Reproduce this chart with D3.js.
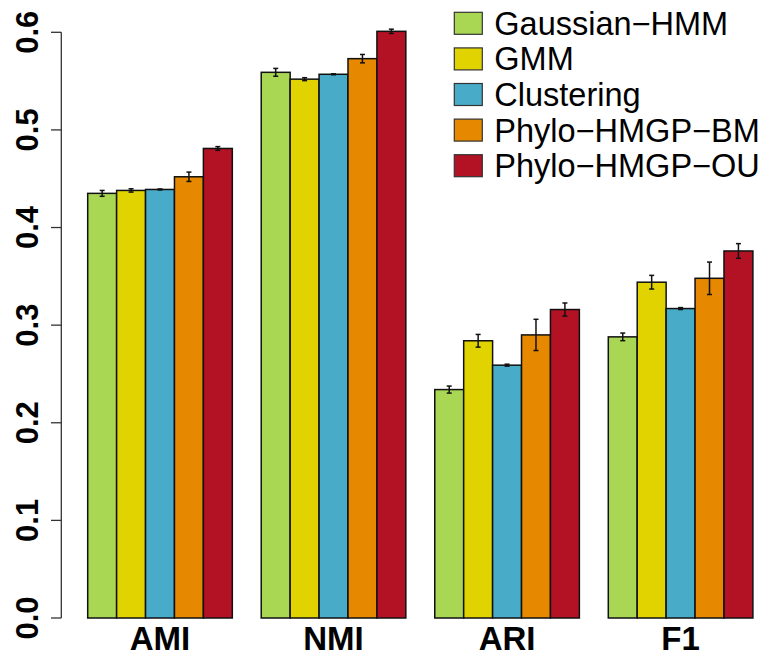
<!DOCTYPE html>
<meta charset="utf-8">
<style>
body { margin: 0; background: #fff; }
text { font-family: "Liberation Sans", Arial, sans-serif; }
</style>
<svg width="760" height="660"></svg>
<script src="https://d3js.org/d3.v7.min.js"></script>
<script>
// metrics and methods
var metrics = ["AMI", "NMI", "ARI", "F1"];
var methods = ["Gaussian\u2212HMM", "GMM", "Clustering", "Phylo\u2212HMGP\u2212BM", "Phylo\u2212HMGP\u2212OU"];
var colors = ["#a9d753", "#e0d300", "#48acc8", "#e68800", "#b31124"];
// one array per method, values in the order of metrics
var gaussHMM  = [0.435, 0.559, 0.234, 0.288];
var gmm       = [0.438, 0.552, 0.284, 0.344];
var clust     = [0.439, 0.557, 0.259, 0.317];
var phyloBM   = [0.452, 0.573, 0.290, 0.348];
var phyloOU   = [0.481, 0.601, 0.316, 0.376];
// half width of error bars
var errGauss  = [0.003, 0.004, 0.0036, 0.0039];
var errGmm    = [0.0017, 0.0015, 0.0065, 0.007];
var errClust  = [0.0005, 0.0005, 0.001, 0.001];
var errBM     = [0.0048, 0.0043, 0.016, 0.0166];
var errOU     = [0.0019, 0.0022, 0.0067, 0.0075];
var yTicks = [0, 0.1, 0.2, 0.3, 0.4, 0.5, 0.6];

var values = [gaussHMM, gmm, clust, phyloBM, phyloOU];
var errs = [errGauss, errGmm, errClust, errBM, errOU];

var svg = d3.select("svg");

// R barplot style: 5 bars per group, one empty slot between groups
var x = d3.scaleLinear().domain([0, 23]).range([87.7, 752.9]);
var y = d3.scaleLinear().domain([0, 0.6]).range([618, 32.3]);
var bw = x(1) - x(0);

var bars = [];
metrics.forEach(function(m, g) {
  methods.forEach(function(s, i) {
    bars.push({g: g, i: i, v: values[i][g], e: errs[i][g]});
  });
});

svg.append("g").selectAll("rect")
  .data(bars)
  .enter().append("rect")
    .attr("x", d => x(d.g * 6 + d.i))
    .attr("y", d => y(d.v))
    .attr("width", bw)
    .attr("height", d => y(0) - y(d.v))
    .attr("fill", d => colors[d.i])
    .attr("stroke", "#111")
    .attr("stroke-width", 1.5);

// error bars
var eb = svg.append("g").attr("stroke", "#111").attr("stroke-width", 1.5);
bars.forEach(function(d) {
  var cx = x(d.g * 6 + d.i) + bw / 2;
  eb.append("line").attr("x1", cx).attr("x2", cx).attr("y1", y(d.v - d.e)).attr("y2", y(d.v + d.e));
  [d.v - d.e, d.v + d.e].forEach(function(t) {
    eb.append("line").attr("x1", cx - 2.5).attr("x2", cx + 2.5).attr("y1", y(t)).attr("y2", y(t));
  });
});

// y axis
var ax = svg.append("g");
ax.append("line").attr("x1", 61.3).attr("x2", 61.3).attr("y1", y(0)).attr("y2", y(0.6))
  .attr("stroke", "#333").attr("stroke-width", 1.3);
ax.selectAll("line.tick").data(yTicks).enter().append("line")
  .attr("class", "tick")
  .attr("x1", 51).attr("x2", 61.3)
  .attr("y1", d => y(d)).attr("y2", d => y(d))
  .attr("stroke", "#333").attr("stroke-width", 1.3);
ax.selectAll("text").data(yTicks).enter().append("text")
  .attr("transform", d => "translate(38," + y(d) + ") rotate(-90)")
  .attr("text-anchor", "middle")
  .attr("font-size", 31)
  .attr("font-weight", "bold")
  .text(d => d3.format(".1f")(d));

// group labels
svg.append("g").selectAll("text")
  .data(metrics)
  .enter().append("text")
    .attr("x", (d, g) => x(g * 6 + 2.5))
    .attr("y", 650)
    .attr("text-anchor", "middle")
    .attr("font-size", 33)
    .attr("font-weight", "bold")
    .text(d => d);

// legend
var leg = svg.append("g").selectAll("g")
  .data(methods)
  .enter().append("g")
    .attr("transform", (d, i) => "translate(454.3," + (23.3 + i * 35.6) + ")");
leg.append("rect")
  .attr("x", 0).attr("y", -11).attr("width", 28).attr("height", 22)
  .attr("fill", (d, i) => colors[i])
  .attr("stroke", "#333").attr("stroke-width", 1.2);
leg.append("text")
  .attr("x", 40).attr("y", 11.5)
  .attr("font-size", 32.5)
  .text(d => d);
</script>
